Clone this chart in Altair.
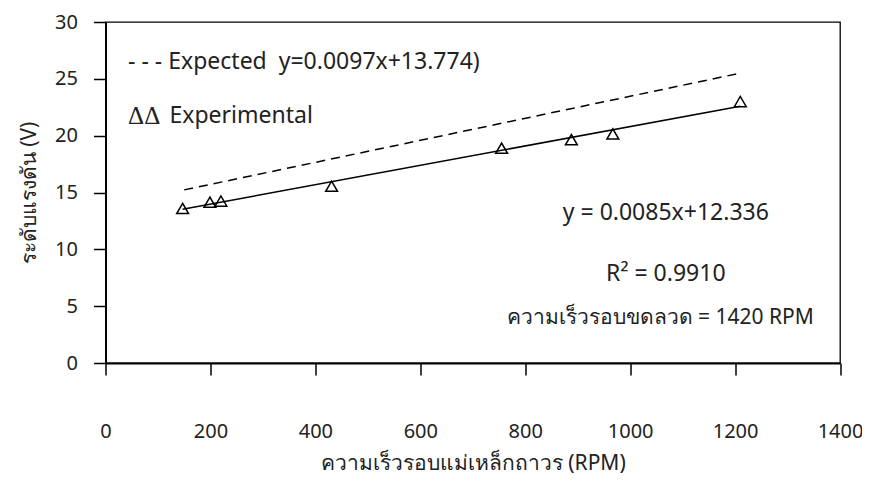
import altair as alt
import pandas as pd

rpm = [147, 199, 220, 431, 755, 888, 967, 1210]
volt = [13.6, 14.15, 14.25, 15.55, 18.9, 19.65, 20.15, 23.0]

# Expected line end points
expected_rpm = [150, 1210]
expected_volt = [15.23, 25.5]

x_ticks = [0, 200, 400, 600, 800, 1000, 1200, 1400]
y_ticks = [0, 5, 10, 15, 20, 25, 30]

x_title = "ความเร็วรอบแม่เหล็กถาวร (RPM)"
y_title = "ระดับแรงดัน (V)"

FONT = "Noto Sans"

df = pd.DataFrame({"rpm": rpm, "volt": volt})
df_exp = pd.DataFrame({"rpm": expected_rpm, "volt": expected_volt})

xscale = alt.Scale(domain=[0, 1400], nice=False, zero=False)
yscale = alt.Scale(domain=[0, 30], nice=False)

xaxis = alt.Axis(values=x_ticks, title=x_title, format="d", grid=False, tickSize=12,
                 labelPadding=46, titlePadding=11, labelFontSize=20,
                 titleFontSize=21, titleFontWeight="normal", domainWidth=2,
                 tickWidth=1.5, domainColor="black", tickColor="black",
                 labelColor="#222222", titleColor="#222222", labelFont=FONT,
                 titleFont=FONT, labelFlush=False)
yaxis = alt.Axis(values=y_ticks, title=y_title, grid=False, tickSize=12,
                 labelPadding=16, titlePadding=15, labelFontSize=20,
                 titleFontSize=21, titleFontWeight="normal", domainWidth=2,
                 tickWidth=1.5, domainColor="black", tickColor="black",
                 labelColor="#222222", titleColor="#222222", labelFont=FONT,
                 titleFont=FONT)

points = alt.Chart(df).mark_point(shape="triangle-up", size=140, filled=False,
                                  color="black", strokeWidth=1.5, opacity=1).encode(
    x=alt.X("rpm:Q", scale=xscale, axis=xaxis),
    y=alt.Y("volt:Q", scale=yscale, axis=yaxis),
)

fit = alt.Chart(df).transform_regression("rpm", "volt").mark_line(
    color="black", strokeWidth=1.5).encode(
    x=alt.X("rpm:Q", scale=xscale),
    y=alt.Y("volt:Q", scale=yscale),
)

expected = alt.Chart(df_exp).mark_line(color="black", strokeWidth=1.5,
                                        strokeDash=[9, 6]).encode(
    x=alt.X("rpm:Q", scale=xscale),
    y=alt.Y("volt:Q", scale=yscale),
)

def label(text, xv, yv, align="left", font=FONT, size=23):
    return alt.Chart().mark_text(text=text, align=align, baseline="middle",
                                 font=font, fontSize=size, color="#222222").encode(
        x=alt.datum(xv, scale=xscale), y=alt.datum(yv, scale=yscale))

legend1 = label("- - - Expected\u00a0\u00a0y=0.0097x+13.774)", 43, 26.5)
legend2a = label("ΔΔ", 43, 21.7, font="Liberation Serif", size=25)
legend2b = label("Experimental", 122, 21.7)
eq = label("y = 0.0085x+12.336", 1068, 13.2, align="center")
r2 = label("R² = 0.9910", 1068, 7.85, align="center")
note = label("ความเร็วรอบขดลวด = 1420 RPM", 1350, 3.95, align="right", size=21)

chart = alt.layer(expected, fit, points, legend1, legend2a, legend2b, eq, r2, note).properties(
    width=734.5, height=341,
    padding={"left": 97.5, "top": 14, "right": 22, "bottom": 114},
    autosize=alt.AutoSizeParams(type="none"),
    background="white",
).configure_view(stroke="black", strokeWidth=1.3)

chart.save("out.html", embed_options={"renderer": "svg", "actions": False})
